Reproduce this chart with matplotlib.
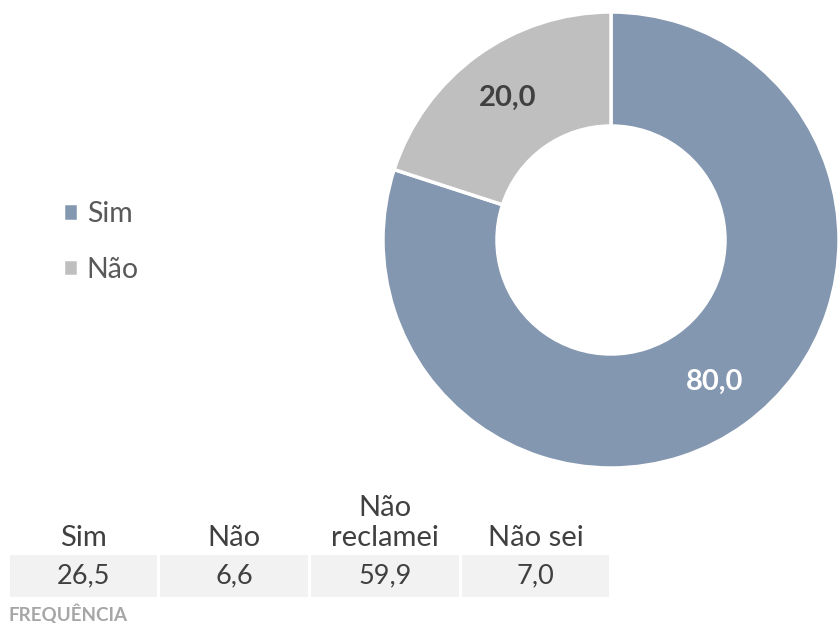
import matplotlib
matplotlib.use('Agg')
import matplotlib.pyplot as plt
import numpy as np

plt.rcParams['font.family'] = ['Lato', 'DejaVu Sans']

# 饼图数据
pie_labels = ['Sim', 'Não']
pie_values = [80.0, 20.0]
pie_colors = ['#8497B0', '#BFBFBF']
pie_text_colors = ['white', '#404040']

# 下方表格数据
table_headers = ['Sim', 'Não', 'Não\nreclamei', 'Não sei']
table_values = [26.5, 6.6, 59.9, 7.0]
table_caption = 'FREQUÊNCIA'

W, H = 838, 623
fig = plt.figure(figsize=(W / 100, H / 100), dpi=100)


def fmt(v):
    return f'{v:.1f}'.replace('.', ',')


# 环形图
cx, cy, r = 611, 240, 228
ax = fig.add_axes([(cx - r) / W, (H - cy - r) / H, 2 * r / W, 2 * r / H])
wedges, _ = ax.pie(pie_values, colors=pie_colors, startangle=90, counterclock=False,
                   radius=1, wedgeprops=dict(width=0.5, edgecolor='white', linewidth=2.5))
ax.set_xlim(-1, 1)
ax.set_ylim(-1, 1)
ax.set_aspect('auto')
ax.axis('off')

# 数据标签：放在扇区中间角度
total = sum(pie_values)
start = 90.0
for v, c in zip(pie_values, pie_text_colors):
    sweep = 360.0 * v / total
    mid = np.deg2rad(start - sweep / 2)
    ax.text(0.77 * np.cos(mid), 0.77 * np.sin(mid), fmt(v), ha='center', va='center',
            fontsize=21, fontweight='bold', color=c)
    start -= sweep

# 图例
fig.legend(wedges, pie_labels, loc='center left', bbox_to_anchor=(37 / W, 1 - 242 / H),
           frameon=False, fontsize=20.5, handlelength=0.55, handleheight=0.55,
           handletextpad=0.3, labelspacing=1.05, labelcolor='#595959')

# 表格
tx0, tx1, ty0, ty1 = 8, 611, 555, 597
tax = fig.add_axes([tx0 / W, (H - ty1) / H, (tx1 - tx0) / W, (ty1 - ty0) / H])
n = len(table_values)
x = np.arange(n)
tax.bar(x + 0.5, 1, width=0.98, color='#F2F2F2')
for xi, v in zip(x, table_values):
    tax.text(xi + 0.5, 0.5, fmt(v), ha='center', va='center', fontsize=19.5, color='#404040')
for xi, h in zip(x, table_headers):
    tax.text(xi + 0.5, 1.1, h, ha='center', va='bottom', fontsize=21, color='#404040',
             linespacing=1.2, multialignment='center')
tax.set_xlim(0, n)
tax.set_ylim(0, 1)
tax.axis('off')

fig.text(8 / W, 1 - 614 / H, table_caption, ha='left', va='center', fontsize=13.5,
         fontweight='bold', color='#A6A6A6')

fig.savefig('out.png', dpi=100)
